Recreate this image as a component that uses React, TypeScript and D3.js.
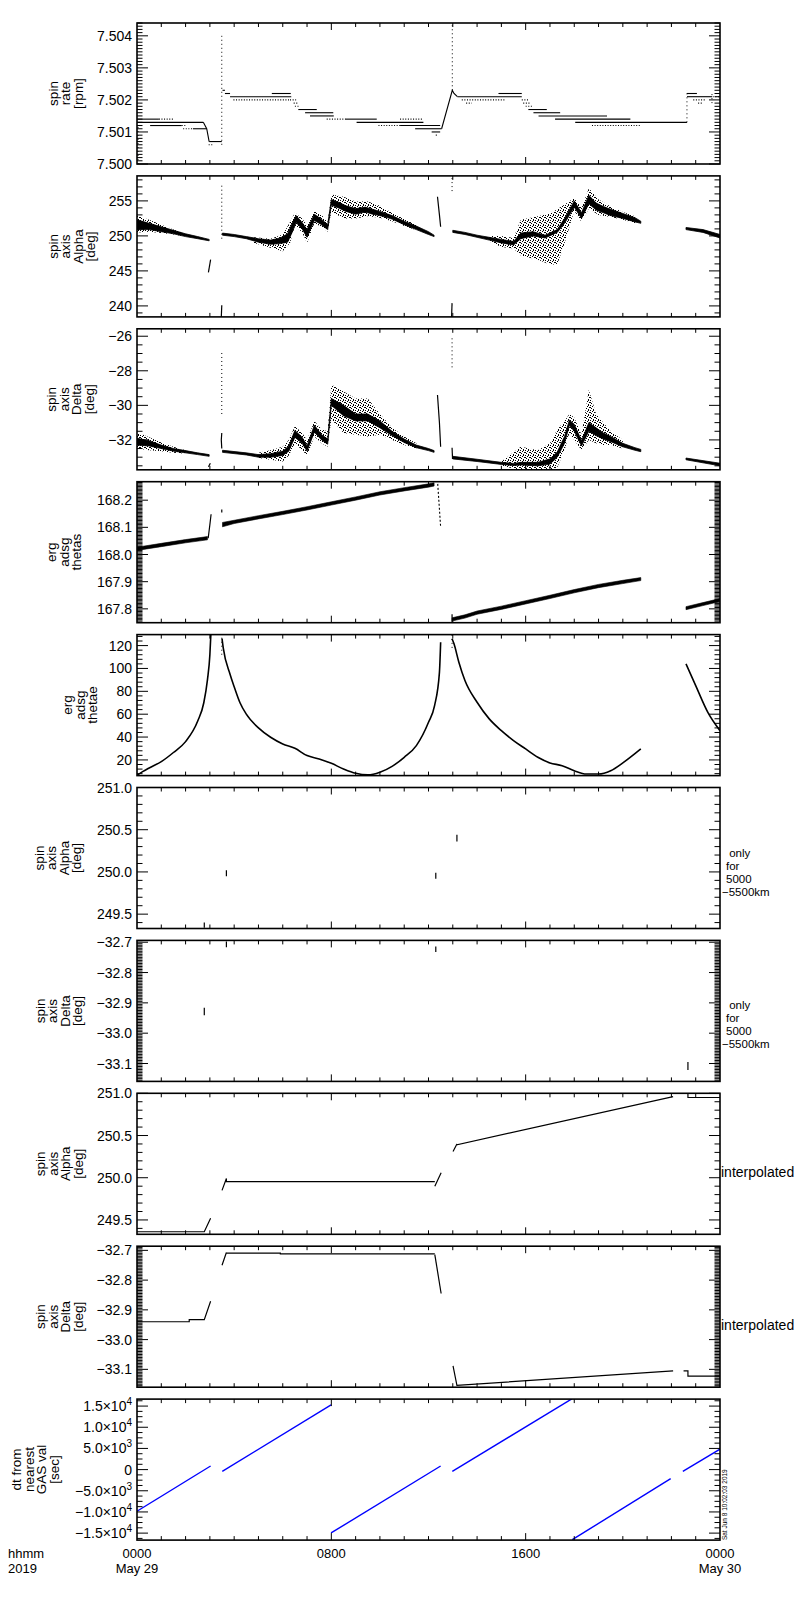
import { useEffect, useRef } from "react";
import * as d3 from "d3";

type Row = number[];

// time axis, hours from 2019-05-29 00:00
const timeMajor = [0, 8, 16, 24];
const timeLabels = ["0000", "0800", "1600", "0000"];
const dateLabels = ["May 29", "", "", "May 30"];

// ---- panel 1: spin rate [rpm] ----
// flat runs: [from h, to h, rpm]
const rateRuns: Row[] = [
  [0, 2.73, 7.5013], [0, 0.9, 7.5014], [0.54, 1.84, 7.5012], [2.3, 2.87, 7.5011],
  [2.97, 3.49, 7.5007], [3.52, 3.62, 7.5023], [3.62, 3.83, 7.5022], [3.83, 6.35, 7.5021],
  [5.55, 6.33, 7.5022], [6.64, 7.4, 7.5017], [6.92, 8.08, 7.5016], [7.12, 8.1, 7.5015],
  [8.6, 9.87, 7.5014], [9.04, 11.79, 7.5013], [10.83, 12.48, 7.5012], [11.45, 12.54, 7.5011],
  [12.13, 12.48, 7.501], [13.19, 15.84, 7.5021], [14.88, 15.84, 7.5022], [16.11, 16.87, 7.5017],
  [16.32, 17.42, 7.5016], [16.53, 19.35, 7.5015], [17.21, 20.31, 7.5014], [18.04, 22.64, 7.5013],
  [22.64, 23.05, 7.5022], [22.64, 23.67, 7.5021],
];
const rateDotRuns: Row[] = [
  [0.9, 1.51, 7.5014], [1.84, 2.05, 7.5012], [1.9, 2.3, 7.5011], [2.95, 3.1, 7.5006],
  [3.97, 6.3, 7.502], [6.3, 6.55, 7.502], [6.45, 6.65, 7.5019], [6.5, 6.7, 7.5018],
  [7.81, 8.6, 7.5014], [9.94, 10.83, 7.5012], [10.83, 11.79, 7.5014], [12.3, 12.4, 7.5009],
  [13.37, 15.15, 7.502], [13.55, 13.78, 7.5019], [15.84, 16.1, 7.502], [15.9, 16.2, 7.5019],
  [16.0, 16.3, 7.5018], [18.73, 20.72, 7.5012], [22.9, 23.4, 7.502], [23.1, 23.3, 7.5019],
  [23.7, 24, 7.5021],
];
// dotted vertical excursions: [h, low, high]
const rateSpikes: Row[] = [
  [0.04, 7.5, 7.5012], [3.49, 7.5006, 7.504], [12.98, 7.5023, 7.5046],
  [22.64, 7.5013, 7.5023], [23.67, 7.5019, 7.5022],
];
const rateRamps: Row[][] = [
  [[2.73, 7.5013], [2.87, 7.5011], [2.92, 7.5009], [2.97, 7.5007]],
  [[12.54, 7.5011], [12.98, 7.5023], [13.05, 7.5022], [13.19, 7.5021]],
];

// ---- panel 2: spin axis Alpha [deg], dense core and sparse scatter [h, low, high] ----
const alphaCore: Row[][] = [
  [[0, 250.9, 252.3], [0.5, 250.9, 251.8], [1.0, 250.6, 251.3], [1.5, 250.3, 250.8],
    [2.0, 249.9, 250.3], [2.5, 249.6, 249.9], [2.97, 249.3, 249.5]],
  [[3.52, 250.1, 250.4], [4.0, 249.9, 250.2], [4.5, 249.6, 249.9], [5.0, 249.1, 249.6],
    [5.5, 248.8, 249.4], [5.9, 248.9, 249.7], [6.2, 249.1, 250.3], [6.4, 250.6, 251.9],
    [6.55, 251.9, 252.9], [6.8, 251.0, 251.9], [7.0, 249.8, 250.9], [7.3, 252.2, 253.1],
    [7.55, 251.7, 252.5], [7.85, 250.9, 251.6], [8.0, 254.4, 255.2], [8.3, 254.0, 254.8],
    [8.6, 253.5, 254.3], [9.0, 253.1, 253.9], [9.4, 253.4, 254.1], [9.7, 253.1, 253.8],
    [10.0, 252.9, 253.5], [10.5, 252.4, 252.9], [11.0, 251.6, 252.1], [11.5, 250.9, 251.4],
    [12.0, 250.2, 250.6], [12.23, 249.9, 250.1]],
  [[13.0, 250.5, 250.8], [13.5, 250.2, 250.5], [14.0, 249.8, 250.1], [14.5, 249.4, 249.8],
    [15.0, 249.0, 249.5], [15.5, 248.7, 249.2], [15.8, 249.6, 250.4], [16.3, 250.0, 250.6],
    [16.8, 249.7, 250.1], [17.3, 250.5, 250.9], [17.6, 251.8, 252.5], [18.0, 254.1, 255.0],
    [18.3, 252.5, 253.3], [18.6, 254.6, 255.8], [18.9, 253.7, 254.7], [19.2, 253.3, 254.2],
    [19.5, 252.9, 253.8], [20.0, 252.5, 253.2], [20.5, 252.0, 252.6], [20.74, 251.8, 252.1]],
  [[22.6, 250.9, 251.2], [23.3, 250.5, 250.9], [24.0, 249.7, 250.2]],
];
const alphaScatter: Row[][] = [
  [[0, 250.5, 252.9], [0.5, 250.6, 252.3], [1.0, 250.4, 251.6], [1.5, 250.2, 250.9], [2.0, 249.9, 250.3]],
  [[4.8, 249.0, 249.8], [5.5, 248.3, 249.6], [6.0, 247.8, 250.2], [6.3, 249.0, 252.0],
    [6.5, 251.5, 253.3], [6.8, 250.5, 252.5], [7.0, 249.0, 251.5], [7.3, 251.8, 253.6],
    [7.6, 251.3, 253.0], [7.85, 250.6, 252.0], [8.0, 253.5, 255.9], [8.5, 252.5, 255.6],
    [9.0, 252.5, 254.9], [9.5, 252.8, 254.9], [10.0, 252.6, 254.3], [10.5, 252.1, 253.3],
    [11.0, 251.4, 252.4], [11.5, 250.8, 251.6]],
  [[14.5, 249.2, 250.0], [15.0, 248.4, 250.0], [15.5, 248.2, 249.7], [15.8, 247.2, 252.3],
    [16.5, 246.6, 252.8], [17.0, 245.9, 253.2], [17.3, 245.9, 253.8], [17.6, 248.9, 254.5],
    [18.0, 253.6, 255.4], [18.3, 252.0, 254.0], [18.6, 253.9, 256.8], [19.0, 253.0, 255.2],
    [19.5, 252.7, 254.2], [20.0, 252.3, 253.4], [20.5, 251.8, 252.8]],
];
const alphaLines: Row[][] = [
  [[2.94, 244.8], [3.03, 246.6]],
  [[3.47, 238.4], [3.49, 240.1]],
  [[12.37, 255.6], [12.45, 253.0], [12.5, 251.3]],
  [[12.95, 238.4], [12.97, 240.4]],
];
const alphaSpikes: Row[] = [[3.49, 249.6, 257.2], [12.97, 256.4, 258.6]];

// ---- panel 3: spin axis Delta [deg] ----
const deltaCore: Row[][] = [
  [[0, -32.3, -31.9], [0.5, -32.35, -32.05], [1.0, -32.5, -32.3], [1.5, -32.65, -32.5],
    [2.0, -32.75, -32.62], [2.5, -32.85, -32.75], [2.97, -32.95, -32.85]],
  [[3.52, -32.72, -32.6], [4.5, -32.87, -32.75], [5.0, -33.0, -32.85], [5.5, -33.0, -32.8],
    [6.0, -32.9, -32.65], [6.25, -32.65, -32.35], [6.5, -31.85, -31.45], [6.8, -32.2, -31.85],
    [7.0, -32.65, -32.35], [7.3, -31.55, -31.15], [7.6, -32.0, -31.7], [7.85, -32.25, -31.95],
    [8.0, -30.0, -29.6], [8.5, -30.6, -30.0], [9.0, -30.9, -30.5], [9.5, -30.9, -30.5],
    [10.0, -31.3, -30.9], [10.5, -31.75, -31.5], [11.0, -32.15, -31.95], [11.5, -32.45, -32.3],
    [12.0, -32.62, -32.5], [12.23, -32.72, -32.62]],
  [[13.0, -33.1, -32.95], [14.0, -33.25, -33.12], [15.0, -33.42, -33.3], [15.5, -33.48, -33.36],
    [15.8, -33.45, -33.3], [16.5, -33.5, -33.3], [17.0, -33.4, -33.1], [17.3, -33.0, -32.7],
    [17.6, -32.2, -31.8], [17.8, -31.15, -30.85], [18.0, -31.5, -31.1], [18.3, -32.35, -32.05],
    [18.6, -31.5, -31.0], [18.9, -31.75, -31.3], [19.2, -31.95, -31.6], [19.5, -32.1, -31.8],
    [20.0, -32.4, -32.2], [20.5, -32.6, -32.45], [20.74, -32.68, -32.55]],
  [[22.6, -33.15, -33.05], [24.0, -33.5, -33.35]],
];
const deltaScatter: Row[][] = [
  [[0, -32.5, -31.55], [0.5, -32.6, -31.85], [1.0, -32.65, -32.15], [1.5, -32.75, -32.4], [2.0, -32.8, -32.6]],
  [[5.0, -33.05, -32.75], [5.5, -33.15, -32.6], [6.0, -33.25, -32.4], [6.25, -32.9, -32.0],
    [6.5, -32.2, -31.2], [6.8, -32.6, -31.6], [7.0, -32.9, -32.0], [7.3, -31.8, -30.9],
    [7.6, -32.2, -31.4], [7.85, -32.4, -31.5], [8.0, -30.8, -28.8], [8.5, -31.6, -29.2],
    [9.0, -31.7, -29.6], [9.5, -31.8, -29.6], [10.0, -31.7, -30.5], [10.5, -32.0, -31.3],
    [11.0, -32.3, -31.8], [11.5, -32.5, -32.2]],
  [[15.0, -33.5, -33.25], [15.8, -33.75, -32.4], [16.5, -33.75, -32.6], [17.0, -33.75, -32.2],
    [17.3, -33.6, -31.4], [17.6, -32.6, -30.9], [17.8, -31.6, -30.5], [18.0, -32.0, -30.7],
    [18.3, -32.6, -31.7], [18.6, -32.0, -29.1], [18.9, -32.2, -30.5], [19.2, -32.3, -31.0],
    [19.5, -32.3, -31.5], [20.0, -32.5, -32.0]],
];
const deltaLines: Row[][] = [
  [[2.94, -33.55], [3.02, -33.35]],
  [[3.49, -31.6], [3.47, -32.0], [3.49, -32.5]],
  [[12.37, -29.4], [12.45, -31.0], [12.5, -32.4]],
  [[12.97, -32.45], [12.99, -33.1]],
];
const deltaSpikes: Row[] = [[3.49, -30.5, -26.9], [12.97, -27.8, -26.1]];

// ---- panel 4: erg adsg thetas ----
const thetasCore: Row[][] = [
  [[0, 168.015, 168.027], [1, 168.029, 168.041], [2, 168.043, 168.055], [2.9, 168.054, 168.066]],
  [[3.52, 168.102, 168.118], [4.0, 168.114, 168.126], [5.0, 168.131, 168.143], [6.0, 168.147, 168.159],
    [7.0, 168.164, 168.176], [8.0, 168.182, 168.194], [9.0, 168.2, 168.212], [10.0, 168.219, 168.231],
    [11.0, 168.234, 168.246], [12.0, 168.248, 168.26], [12.23, 168.252, 168.264]],
  [[12.97, 167.755, 167.767], [13.5, 167.766, 167.778], [14.0, 167.78, 167.792], [15.0, 167.798, 167.81],
    [16.0, 167.818, 167.83], [17.0, 167.838, 167.85], [18.0, 167.859, 167.871], [19.0, 167.878, 167.89],
    [20.0, 167.893, 167.905], [20.74, 167.904, 167.915]],
  [[22.6, 167.797, 167.808], [23.3, 167.812, 167.823], [24.0, 167.827, 167.838]],
];
const thetasLines: Row[][] = [
  [[2.93, 168.06], [3.0, 168.11], [3.05, 168.148]],
  [[12.97, 167.75], [12.97, 167.78]],
];
const thetasDotLines: Row[][] = [[[12.38, 168.26], [12.5, 168.1]]];
const thetasSpikes: Row[] = [[3.49, 168.155, 168.166]];

// ---- panel 5: erg adsg thetae ----
const thetaeCurves: Row[][] = [
  [[0, 6.5], [0.25, 10], [0.5, 13], [1, 18.5], [1.5, 26.5], [2, 36], [2.5, 54], [2.75, 70],
    [2.9, 90], [3.0, 112], [3.04, 129.6]],
  [[3.5, 126], [3.55, 118], [3.83, 95], [4.0, 84], [4.24, 70], [4.5, 60], [5.0, 48], [5.5, 39.8],
    [6, 34], [6.5, 30.2], [7, 23.8], [7.5, 20.9], [8, 17], [8.5, 12.1], [9, 8.3], [9.5, 6.9],
    [10, 9.2], [10.5, 14.4], [11, 22.3], [11.5, 32.5], [12, 52.9], [12.25, 67.5], [12.45, 96.6], [12.5, 122.9]],
  [[12.97, 126], [13.05, 121.5], [13.25, 105.4], [13.5, 89.4], [14, 70.4], [14.5, 55.9], [15, 45.6],
    [15.5, 36.9], [16, 29.6], [16.5, 22.3], [17, 17.4], [17.5, 15], [18, 10.6], [18.5, 7.7],
    [19, 7.7], [19.5, 10.6], [20, 17.4], [20.74, 29.6]],
  [[22.6, 104], [23, 85], [23.5, 61.6], [24, 45.6]],
];
const thetaeSpikes: Row[] = [[3.49, 112, 129.6], [12.97, 118, 129.6]];

// ---- panels 6, 7: values only for 5000-5500 km, [h, low, high] ----
const alphaShell: Row[] = [
  [2.77, 249.34, 249.4], [3.68, 249.95, 250.02], [12.3, 249.92, 249.99],
  [13.17, 250.36, 250.44], [22.68, 250.95, 251.0],
];
const deltaShell: Row[] = [
  [3.68, -32.717, -32.698], [12.3, -32.732, -32.714], [2.77, -32.941, -32.916], [22.68, -33.121, -33.095],
];

// ---- panels 8, 9: interpolated ----
const alphaInterp: Row[][] = [
  [[0, 249.36], [2.77, 249.36], [3.03, 249.52]],
  [[3.5, 249.85], [3.68, 249.99], [3.68, 249.955], [12.26, 249.955]],
  [[12.26, 249.9], [12.52, 250.06]],
  [[13.01, 250.31], [13.17, 250.4], [13.17, 250.39], [22.07, 250.96]],
  [[22.68, 251.0], [22.68, 250.95], [24, 250.95]],
];
const deltaInterp: Row[][] = [
  [[0, -32.94], [2.15, -32.94], [2.15, -32.933], [2.77, -32.933], [3.03, -32.871]],
  [[3.5, -32.75], [3.68, -32.707], [3.68, -32.709], [5.9, -32.709], [5.9, -32.712], [12.26, -32.712]],
  [[12.26, -32.714], [12.52, -32.845]],
  [[13.01, -33.088], [13.17, -33.154], [22.07, -33.105]],
  [[22.5, -33.105], [22.68, -33.105], [22.68, -33.123], [24, -33.123]],
];

// ---- panel 10: dt from nearest GAS value [sec] ----
const dtSegments: Row[][] = [
  [[0, -9834], [3.03, 855]],
  [[3.51, -404], [7.99, 15273]],
  [[7.99, -14964], [12.5, 855]],
  [[12.98, -404], [17.9, 16700]],
  [[17.92, -16550], [21.97, -2138]],
  [[22.47, -404], [24, 4822]],
];

const LEFT = 137;
const RIGHT = 720;
const TOP0 = 23;
const STEP = 152.9;
const PH = 141;
const FONT = "'Liberation Sans', Arial, sans-serif";

const sup = (v: number) => {
  if (v === 0) return ["0", ""];
  const e = Math.floor(Math.log10(Math.abs(v)) + 1e-9);
  const m = v / Math.pow(10, e);
  return [(m < 0 ? "\u2212" : "") + Math.abs(m).toFixed(1) + "\u00d710", String(e)];
};

export default function App() {
  const svgRef = useRef<SVGSVGElement | null>(null);

  useEffect(() => {
    const svg = d3.select(svgRef.current);
    svg.selectAll("*").remove();
    const defs = svg.append("defs");
    const pat = defs
      .append("pattern")
      .attr("id", "speckle")
      .attr("width", 5)
      .attr("height", 5)
      .attr("patternUnits", "userSpaceOnUse");
    [[0, 0], [2, 1], [4, 2], [1, 3], [3, 4], [0, 2], [3, 0]].forEach(([px, py]) =>
      pat.append("rect").attr("x", px).attr("y", py).attr("width", 1).attr("height", 1).attr("fill", "#000")
    );

    const x = d3.scaleLinear().domain([0, 24]).range([LEFT, RIGHT]);

    const runs = (g: any, y: any, data: Row[], dotted: boolean) => {
      g.selectAll(null)
        .data(data)
        .join("line")
        .attr("x1", (d: Row) => x(d[0]))
        .attr("x2", (d: Row) => x(d[1]))
        .attr("y1", (d: Row) => y(d[2]))
        .attr("y2", (d: Row) => y(d[2]))
        .attr("stroke", "#000")
        .attr("stroke-width", 1.1)
        .attr("stroke-dasharray", dotted ? "1 1.6" : null);
    };
    const spikes = (g: any, y: any, data: Row[], dotted: boolean) => {
      g.selectAll(null)
        .data(data)
        .join("line")
        .attr("x1", (d: Row) => x(d[0]))
        .attr("x2", (d: Row) => x(d[0]))
        .attr("y1", (d: Row) => y(d[1]))
        .attr("y2", (d: Row) => y(d[2]))
        .attr("stroke", "#000")
        .attr("stroke-width", dotted ? 1 : 1.2)
        .attr("stroke-dasharray", dotted ? "1 3" : null);
    };
    const lines = (g: any, y: any, data: Row[][], color = "#000", w = 1.2, dash: string | null = null, smooth = false) => {
      const line = d3
        .line<Row>()
        .x((d) => x(d[0]))
        .y((d) => y(d[1]))
        .curve(smooth ? d3.curveMonotoneX : d3.curveLinear);
      g.selectAll(null)
        .data(data)
        .join("path")
        .attr("d", line)
        .attr("fill", "none")
        .attr("stroke", color)
        .attr("stroke-width", w)
        .attr("stroke-dasharray", dash);
    };
    const bands = (g: any, y: any, core: Row[][], scatter: Row[][], edge = 0.8) => {
      const area = d3
        .area<Row>()
        .x((d) => x(d[0]))
        .y0((d) => y(d[1]))
        .y1((d) => y(d[2]));
      g.selectAll(null).data(scatter).join("path").attr("d", area).attr("fill", "url(#speckle)");
      g.selectAll(null)
        .data(core)
        .join("path")
        .attr("d", area)
        .attr("fill", "#000")
        .attr("stroke", "#000")
        .attr("stroke-width", edge);
    };

    const deg4 = ["spin", "axis", "Alpha", "[deg]"];
    const del4 = ["spin", "axis", "Delta", "[deg]"];
    const shellNote = [
      { t: " only", dx: 6 }, { t: "for", dx: 6 }, { t: "5000", dx: 6 }, { t: "\u22125500km", dx: 2 },
    ];

    const panels = [
      {
        domain: [7.5, 7.5044], major: 0.001, minor: 10, fmt: d3.format(".3f"),
        title: ["spin", "rate", "[rpm]"], tx: 57.5,
        draw: (g: any, y: any) => {
          runs(g, y, rateRuns, false);
          runs(g, y, rateDotRuns, true);
          spikes(g, y, rateSpikes, true);
          lines(g, y, rateRamps, "#000", 1.1);
        },
      },
      {
        domain: [238.43, 258.57], major: 5, minor: 5, fmt: d3.format("d"),
        title: deg4, tx: 57.5,
        draw: (g: any, y: any) => {
          bands(g, y, alphaCore, alphaScatter);
          lines(g, y, alphaLines);
          spikes(g, y, alphaSpikes, true);
        },
      },
      {
        domain: [-33.73, -25.57], major: 2, minor: 4, fmt: d3.format("d"),
        title: del4, tx: 56,
        draw: (g: any, y: any) => {
          bands(g, y, deltaCore, deltaScatter);
          lines(g, y, deltaLines);
          spikes(g, y, deltaSpikes, true);
        },
      },
      {
        domain: [167.749, 168.268], major: 0.1, minor: 20, fmt: d3.format(".1f"),
        title: ["erg", "adsg", "thetas"], tx: 56,
        draw: (g: any, y: any) => {
          bands(g, y, thetasCore, [], 0.6);
          lines(g, y, thetasLines);
          lines(g, y, thetasDotLines, "#000", 1.1, "2 2");
          spikes(g, y, thetasSpikes, false);
        },
      },
      {
        domain: [6.3, 129.6], major: 20, minor: 5, fmt: d3.format("d"),
        title: ["erg", "adsg", "thetae"], tx: 72,
        draw: (g: any, y: any) => {
          lines(g, y, thetaeCurves, "#000", 1.6, null, true);
          spikes(g, y, thetaeSpikes, true);
        },
      },
      {
        domain: [249.33, 251.0], major: 0.5, minor: 5, fmt: d3.format(".1f"),
        title: deg4, tx: 43.5, side: shellNote,
        draw: (g: any, y: any) => spikes(g, y, alphaShell, false),
      },
      {
        domain: [-33.159, -32.694], major: 0.1, minor: 20, fmt: d3.format(".1f"),
        title: del4, tx: 44.5, side: shellNote,
        draw: (g: any, y: any) => spikes(g, y, deltaShell, false),
      },
      {
        domain: [249.33, 251.0], major: 0.5, minor: 5, fmt: d3.format(".1f"),
        title: deg4, tx: 45, interp: true,
        draw: (g: any, y: any) => lines(g, y, alphaInterp, "#000", 1.2),
      },
      {
        domain: [-33.16, -32.686], major: 0.1, minor: 20, fmt: d3.format(".1f"),
        title: del4, tx: 45, interp: true,
        draw: (g: any, y: any) => lines(g, y, deltaInterp, "#000", 1.2),
      },
      {
        domain: [-16650, 16650], major: 5000, minor: 4, fmt: null,
        title: ["dt from", "nearest", "GAS val", "[sec]"], tx: 21,
        draw: (g: any, y: any) => lines(g, y, dtSegments, "#0000ff", 1.4),
      },
    ];

    panels.forEach((p: any, i) => {
      const top = TOP0 + STEP * i;
      const bottom = top + PH;
      const y = d3.scaleLinear().domain(p.domain).range([bottom, top]);
      const g = svg.append("g");

      defs
        .append("clipPath")
        .attr("id", `clip${i}`)
        .append("rect")
        .attr("x", LEFT)
        .attr("y", top)
        .attr("width", RIGHT - LEFT)
        .attr("height", PH);
      const plot = g.append("g").attr("clip-path", `url(#clip${i})`);
      p.draw(plot, y);

      // time ticks, top and bottom
      for (let h = 1; h < 24; h++) {
        const len = h % 8 === 0 ? 7 : 4;
        g.append("line").attr("x1", x(h)).attr("x2", x(h)).attr("y1", top).attr("y2", top + len)
          .attr("stroke", "#000").attr("stroke-width", 1);
        g.append("line").attr("x1", x(h)).attr("x2", x(h)).attr("y1", bottom).attr("y2", bottom - len)
          .attr("stroke", "#000").attr("stroke-width", 1);
      }

      // value ticks, left and right
      const [lo, hi] = p.domain;
      const ms = p.major / p.minor;
      for (let k = Math.ceil(lo / ms - 1e-6); k <= Math.floor(hi / ms + 1e-6); k++) {
        const isMajor = k % p.minor === 0;
        const yy = y(k * ms);
        const len = isMajor ? 11 : 5.5;
        g.append("line").attr("x1", LEFT).attr("x2", LEFT + len).attr("y1", yy).attr("y2", yy)
          .attr("stroke", "#000").attr("stroke-width", 1);
        g.append("line").attr("x1", RIGHT).attr("x2", RIGHT - len).attr("y1", yy).attr("y2", yy)
          .attr("stroke", "#000").attr("stroke-width", 1);
        if (isMajor) {
          const v = k * ms;
          const t = g.append("text").attr("x", 132).attr("y", yy).attr("dy", "0.36em")
            .attr("text-anchor", "end").attr("font-family", FONT).attr("font-size", 14);
          if (p.fmt) {
            t.text(p.fmt(v));
          } else {
            const [base, ex] = sup(Math.round(v));
            t.append("tspan").text(base);
            if (ex) t.append("tspan").attr("dy", -6).attr("font-size", 10).text(ex);
          }
        }
      }

      // frame
      g.append("rect").attr("x", LEFT).attr("y", top).attr("width", RIGHT - LEFT).attr("height", PH)
        .attr("fill", "none").attr("stroke", "#000").attr("stroke-width", 1.6);

      // stacked y title, one text with a line per tspan
      const cy = (top + bottom) / 2;
      const tt = g.append("text")
        .attr("transform", `translate(${p.tx},${cy}) rotate(-90)`)
        .attr("text-anchor", "middle").attr("font-family", FONT).attr("font-size", 13.5);
      p.title.forEach((s: string, j: number) => {
        tt.append("tspan").attr("x", 0).attr("y", j * 12.5).text(s);
      });

      if (p.side) {
        p.side.forEach((s: any, j: number) => {
          g.append("text").attr("x", RIGHT + s.dx).attr("y", top + 69 + j * 13)
            .attr("font-family", FONT).attr("font-size", 11.5)
            .style("white-space", "pre").text(s.t);
        });
      }
      if (p.interp) {
        g.append("text").attr("x", RIGHT + 1).attr("y", top + 84)
          .attr("font-family", FONT).attr("font-size", 14).text("interpolated");
      }
    });

    // bottom time labels
    const base = TOP0 + STEP * 9 + PH;
    timeMajor.forEach((h, j) => {
      svg.append("text").attr("x", x(h)).attr("y", base + 18).attr("text-anchor", "middle")
        .attr("font-family", FONT).attr("font-size", 13).text(timeLabels[j]);
      if (dateLabels[j]) {
        svg.append("text").attr("x", x(h)).attr("y", base + 33).attr("text-anchor", "middle")
          .attr("font-family", FONT).attr("font-size", 13).text(dateLabels[j]);
      }
    });
    svg.append("text").attr("x", 8).attr("y", base + 18).attr("font-family", FONT).attr("font-size", 13).text("hhmm");
    svg.append("text").attr("x", 8).attr("y", base + 33).attr("font-family", FONT).attr("font-size", 13).text("2019");

    svg.append("text")
      .attr("transform", `translate(727,${base}) rotate(-90)`)
      .attr("font-family", FONT).attr("font-size", 6.5)
      .text("Sat Jun  8 10:02:03 2019");
  }, []);

  return (
    <div style={{ position: "absolute", left: 0, top: 0, background: "#fff" }}>
      <svg ref={svgRef} width={800} height={1600} style={{ display: "block" }}></svg>
    </div>
  );
}
